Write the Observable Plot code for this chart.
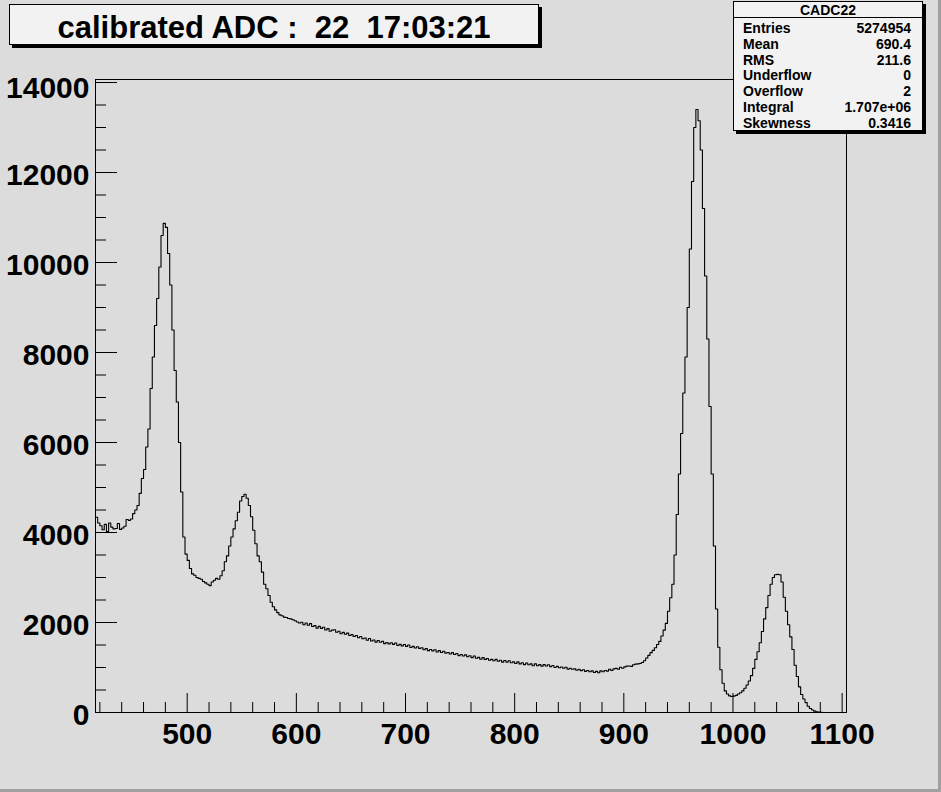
<!DOCTYPE html>
<html>
<head>
<meta charset="utf-8">
<script src="https://cdn.jsdelivr.net/npm/d3@7"></script>
<script src="https://cdn.jsdelivr.net/npm/@observablehq/plot@0.6"></script>
<style>
  html, body { margin: 0; padding: 0; background: #dcdcdc; }
  #canvas { position: relative; width: 941px; height: 792px; background: #dcdcdc; overflow: hidden;
            font-family: "Liberation Sans", Arial, Helvetica, sans-serif; }
  #canvas svg { position: absolute; left: 0; top: 0; }
  #bevel { position: absolute; left: 0; top: 0; width: 941px; height: 792px; box-sizing: border-box;
           border-right: 3px solid #a0a0a0; border-bottom: 3px solid #a0a0a0; pointer-events: none; }
  #title { position: absolute; left: 9px; top: 4px; width: 528px; height: 37px; padding-top: 2px; background: #f2f2f2;
           border: 1px solid #000; box-shadow: 3px 3px 0 #000; text-align: center;
           font-weight: bold; font-size: 31px; line-height: 41px; color: #000; white-space: pre; }
  #stats { position: absolute; left: 733px; top: 1px; width: 188px; height: 128px; background: #f2f2f2;
           border: 1px solid #000; box-shadow: 3px 3px 0 #000; font-weight: bold; font-size: 14px; color: #000; }
  #stats .hdr { position: absolute; left: 0; right: 0; top: 0; height: 15px; line-height: 16px; text-align: center;
                border-bottom: 1px solid #000; }
  #stats .row { position: absolute; left: 9px; right: 11px; height: 16px; line-height: 16px; }
  #stats .row .v { position: absolute; right: 0; top: 0; }
</style>
</head>
<body>
<div id="canvas"></div>
<script>
// ---- histogram binning (CADC22) ----
const binLow = 416;     // lower edge of first bin
const binWidth = 2;     // ADC units per bin
// bin contents, bins from 416 to 1104
const counts = [
  4340, 4210, 4150, 4060, 4180, 4020, 4210, 4120, 4080, 4090,
  4200, 4070, 4100, 4140, 4290, 4270, 4300, 4420, 4500, 4600,
  4870, 5200, 5400, 5900, 6300, 7200, 7900, 8600, 9200, 9900,
  10600, 10870, 10780, 10200, 9500, 8500, 7600, 6900, 6000, 4900,
  3900, 3520, 3380, 3200, 3080, 3050, 3000, 2980, 2960, 2910,
  2880, 2850, 2820, 2900, 2940, 2980, 2960, 3040, 3150, 3350,
  3480, 3700, 3900, 4080, 4260, 4450, 4700, 4800, 4850, 4760,
  4600, 4350, 4050, 3750, 3480, 3350, 3120, 2850, 2750, 2600,
  2450, 2350, 2280, 2220, 2170, 2150, 2120, 2110, 2090, 2080,
  2060, 2040, 2010, 1990,
  2005, 1950, 1990, 1940, 1975, 1910, 1930, 1875, 1915, 1870,
  1895, 1835, 1865, 1805, 1830, 1840, 1785, 1805, 1750, 1780,
  1740, 1765, 1710, 1730, 1690, 1710, 1660, 1690, 1640, 1655,
  1605, 1645, 1590, 1610, 1565, 1600, 1560, 1580, 1530, 1555,
  1525, 1550, 1515, 1545, 1490, 1515, 1480, 1510, 1470, 1500,
  1445, 1470, 1435, 1460, 1425, 1440, 1395, 1420, 1375, 1400,
  1370, 1395, 1345, 1375, 1335, 1360, 1320, 1335, 1300, 1330,
  1290, 1310, 1265, 1290, 1255, 1280, 1240, 1260, 1220, 1255,
  1205, 1225, 1185, 1220, 1180, 1200, 1160, 1180, 1150, 1180,
  1140, 1160, 1120, 1155, 1120, 1150, 1105, 1125, 1090, 1125,
  1080, 1105, 1065, 1100, 1060, 1080, 1040, 1080, 1040, 1065,
  1030, 1065, 1035, 1060, 1020, 1045, 1000, 1025, 995, 1010,
  985, 1005, 965, 985, 960, 970, 940, 960, 930, 950,
  915, 935, 905, 925, 890, 915, 885, 925, 905, 935,
  920, 960, 935, 970, 980, 960, 1005, 985, 1015, 1030,
  1035, 1025, 1060, 1075, 1080,
  1090, 1110, 1150, 1210, 1270, 1330, 1380, 1440, 1510, 1580,
  1700, 1830, 1980, 2250, 2550, 2850, 3500, 4400, 5300, 6200,
  7100, 7900, 9000, 10300, 11800, 13000, 13400, 13150, 12500, 11200,
  9700, 8300, 6800, 5300, 3700, 2300, 1450, 950, 650, 480,
  410, 370, 355, 365, 380, 410, 440, 480, 540, 610,
  700, 820, 980, 1180, 1350, 1550, 1800, 2080, 2330, 2600,
  2850, 3000, 3060, 3070, 3060, 2900, 2560, 2250, 1950, 1680,
  1400, 1050, 800, 570, 400, 300, 220, 140, 90, 55,
  30, 15, 8, 3,
  0, 0, 0, 0, 0, 0, 0, 0, 0, 0, 0
];

// axis definitions
const xDomain = [416, 1104];
const yDomain = [0, 14067];
const xLabels = [500, 600, 700, 800, 900, 1000, 1100];
const xMajor = [500, 600, 700, 800, 900, 1000, 1100];
const xMinor = [420, 440, 460, 480, 520, 540, 560, 580, 620, 640, 660, 680, 720, 740, 760, 780,
                820, 840, 860, 880, 920, 940, 960, 980, 1020, 1040, 1060, 1080];
const yLabels = [0, 2000, 4000, 6000, 8000, 10000, 12000];
const yTopLabel = [14000];
const yMajor = [0, 2000, 4000, 6000, 8000, 10000, 12000, 14000];
const yMinor = [500, 1000, 1500, 2500, 3000, 3500, 4500, 5000, 5500, 6500, 7000, 7500, 8500, 9000, 9500,
                10500, 11000, 11500, 12500, 13000, 13500];

// title and stats texts
const titleText = "calibrated ADC :  22  17:03:21";
const statsName = "CADC22";
const statsLabels = ["Entries", "Mean", "RMS", "Underflow", "Overflow", "Integral", "Skewness"];
const statsValues = ["5274954", "690.4", "211.6", "0", "2", "1.707e+06", "0.3416"];

// build step points (bin lower edges + final upper edge)
const steps = counts.map((c, i) => ({x: binLow + i * binWidth, y: c}));
steps.push({x: binLow + counts.length * binWidth, y: counts[counts.length - 1]});

const W = 941, H = 792;
const mL = 95, mR = 95, mT = 79, mB = 80;
const frameW = W - mL - mR, frameH = H - mT - mB;
const fontFam = '"Liberation Sans", Arial, Helvetica, sans-serif';
const labelSize = 30;

const chart = Plot.plot({
  width: W, height: H,
  marginLeft: mL, marginRight: mR, marginTop: mT, marginBottom: mB,
  x: {domain: xDomain, axis: null},
  y: {domain: yDomain, axis: null},
  style: {background: "transparent", fontFamily: fontFam, color: "#000", overflow: "visible"},
  marks: [
    Plot.frame({stroke: "#000", strokeWidth: 1}),
    Plot.tickX(xMinor, {x: d => d, stroke: "#000", insetTop: frameH - 10}),
    Plot.tickX(xMajor, {x: d => d, stroke: "#000", insetTop: frameH - 19}),
    Plot.tickY(yMinor, {y: d => d, stroke: "#000", insetRight: frameW - 11}),
    Plot.tickY(yMajor, {y: d => d, stroke: "#000", insetRight: frameW - 22}),
    Plot.line(steps, {x: "x", y: "y", curve: "step-after", stroke: "#000", strokeWidth: 1.1}),
    Plot.text(xLabels, {x: d => d, text: d => String(d), frameAnchor: "bottom", lineAnchor: "top",
      dy: 10, fontSize: labelSize, fontWeight: "bold", fill: "#000"}),
    Plot.text(yLabels, {y: d => d, text: d => String(d), frameAnchor: "left", textAnchor: "end",
      dx: -6, dy: 3, fontSize: labelSize, fontWeight: "bold", fill: "#000"}),
    Plot.text(yTopLabel, {y: d => d, text: d => String(d), frameAnchor: "left", textAnchor: "end",
      dx: -6, dy: 6, fontSize: labelSize, fontWeight: "bold", fill: "#000"})
  ]
});

const canvas = document.getElementById("canvas");
canvas.appendChild(chart);

// title box
const title = document.createElement("div");
title.id = "title";
title.textContent = titleText;
canvas.appendChild(title);

// stats box
const stats = document.createElement("div");
stats.id = "stats";
const hdr = document.createElement("div");
hdr.className = "hdr";
hdr.textContent = statsName;
stats.appendChild(hdr);
statsLabels.forEach((lab, i) => {
  const row = document.createElement("div");
  row.className = "row";
  row.style.top = (28 + i * 15.8 - 8 - 2) + "px";
  const l = document.createElement("span");
  l.textContent = lab;
  const v = document.createElement("span");
  v.className = "v";
  v.textContent = statsValues[i];
  row.appendChild(l);
  row.appendChild(v);
  stats.appendChild(row);
});
canvas.appendChild(stats);

const bevel = document.createElement("div");
bevel.id = "bevel";
canvas.appendChild(bevel);
</script>
</body>
</html>
